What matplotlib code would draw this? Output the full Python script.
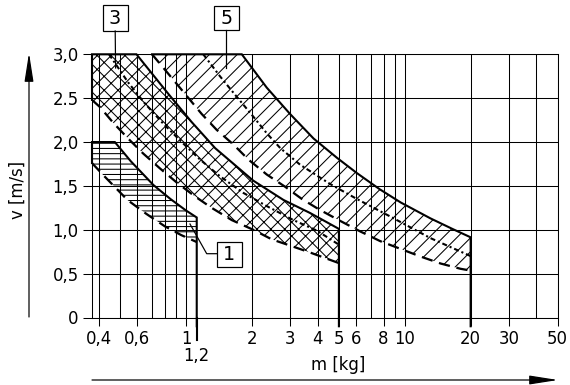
import matplotlib
matplotlib.use('Agg')
import matplotlib.pyplot as plt
from matplotlib.patches import Rectangle, FancyArrowPatch
from matplotlib.lines import Line2D
from matplotlib.ticker import FixedLocator, NullFormatter
import matplotlib.transforms as mtransforms

plt.rcParams['font.family'] = ['DejaVu Sans']
plt.rcParams['hatch.linewidth'] = 0.6

W, H, DPI = 570, 385, 125

# achsen
x_ticks = [0.4, 0.6, 1, 2, 3, 4, 5, 6, 8, 10, 20, 30, 50]
x_tick_labels = ['0,4', '0,6', '1', '2', '3', '4', '5', '6', '8', '10', '20', '30', '50']
x_grid = [0.4, 0.5, 0.6, 0.7, 0.8, 0.9, 1, 2, 3, 4, 5, 6, 7, 8, 9, 10, 20, 30, 40, 50]
y_ticks = [0, 0.5, 1.0, 1.5, 2.0, 2.5, 3.0]
y_tick_labels = ['0', '0,5', '1,0', '1,5', '2,0', '2.5', '3,0']
m_min, m_max = 0.372, 50

# feld 1
f1_upper_m = [0.372, 0.372, 0.473, 0.56, 0.71, 0.85, 1.0, 1.12]
f1_upper_v = [1.76, 2.0, 2.0, 1.78, 1.51, 1.35, 1.22, 1.14]
f1_lower_m = [0.372, 0.42, 0.54, 0.66, 0.80, 0.95, 1.12]
f1_lower_v = [1.76, 1.62, 1.34, 1.18, 1.04, 0.94, 0.86]
f1_limit = 1.12

# feld 3
f3_upper_m = [0.372, 0.372, 0.594, 0.83, 1.06, 1.36, 2.03, 2.79, 3.7, 5.0]
f3_upper_v = [2.48, 3.0, 3.0, 2.55, 2.23, 1.93, 1.56, 1.34, 1.19, 1.01]
f3_lower_m = [0.372, 0.404, 0.465, 0.544, 0.637, 0.76, 0.906, 1.10, 1.31, 1.62, 2.03, 2.47, 2.99, 3.70, 5.0]
f3_lower_v = [2.48, 2.40, 2.22, 2.04, 1.87, 1.70, 1.54, 1.38, 1.25, 1.11, 1.00, 0.89, 0.82, 0.74, 0.62]
f3_mid_m = [0.445, 0.544, 0.649, 0.787, 0.956, 1.16, 1.43, 1.83, 2.34, 3.10, 3.97, 5.0]
f3_mid_v = [3.0, 2.68, 2.44, 2.21, 2.0, 1.80, 1.61, 1.42, 1.27, 1.11, 0.99, 0.83]
f3_limit = 5.0

# feld 5
f5_upper_m = [0.70, 1.80, 2.34, 2.99, 3.83, 4.9, 6.05, 7.7, 9.6, 13.1, 16.5, 20.0]
f5_upper_v = [3.0, 3.0, 2.62, 2.32, 2.04, 1.82, 1.645, 1.46, 1.31, 1.13, 1.01, 0.914]
f5_lower_m = [0.70, 0.875, 1.18, 1.38, 1.65, 1.93, 2.34, 2.84, 3.39, 4.07, 5.08, 6.27, 7.73, 9.73, 11.8, 14.6, 18.0, 20.0]
f5_lower_v = [3.0, 2.71, 2.32, 2.14, 1.97, 1.80, 1.63, 1.49, 1.35, 1.23, 1.10, 0.98, 0.87, 0.775, 0.695, 0.615, 0.555, 0.535]
f5_mid_m = [1.2, 1.43, 1.65, 2.03, 2.34, 2.70, 3.33, 4.57, 6.05, 8.6, 13.1, 20.0]
f5_mid_v = [3.0, 2.75, 2.56, 2.29, 2.10, 1.93, 1.74, 1.52, 1.35, 1.15, 0.905, 0.70]
f5_limit = 20.0

fig = plt.figure(figsize=(W / DPI, H / DPI), dpi=DPI)
ax = fig.add_axes([92 / W, 1 - 317.5 / H, 465.7 / W, 263.2 / H])
ax.set_xscale('log')
ax.set_xlim(m_min, m_max)
ax.set_ylim(0, 3.0)

ax.xaxis.set_major_locator(FixedLocator(x_ticks))
ax.xaxis.set_minor_locator(FixedLocator(x_grid))
ax.xaxis.set_major_formatter(NullFormatter())
ax.xaxis.set_minor_formatter(NullFormatter())
ax.set_xticks(x_ticks)
ax.set_xticklabels(x_tick_labels)
ax.set_yticks(y_ticks)
ax.set_yticklabels(y_tick_labels)
ax.tick_params(axis='x', which='major', length=4.4, width=0.6, pad=3, labelsize=9.5)
ax.tick_params(axis='x', which='minor', length=0)
ax.tick_params(axis='y', length=5.2, width=0.6, pad=2.5, labelsize=9.5)
ax.grid(True, which='both', axis='x', color='black', lw=0.6)
ax.grid(True, axis='y', color='black', lw=0.6)
ax.set_axisbelow(True)
for sp in ax.spines.values():
    sp.set_linewidth(0.6)

dash = (0, (5, 3))
dashdot = (0, (2.4, 1.4, 1.0, 1.4))


def feld(up_m, up_v, lo_m, lo_v, limit, hatch, mid_m=None, mid_v=None):
    poly_m = up_m + [limit] + lo_m[::-1]
    poly_v = up_v + [lo_v[-1]] + lo_v[::-1]
    ax.fill(poly_m, poly_v, facecolor='none', edgecolor='black', hatch=hatch, linewidth=0)
    ax.plot(up_m + [limit], up_v + [-0.1], color='black', lw=1.2, clip_on=False,
            solid_joinstyle='miter')
    ax.plot(lo_m, lo_v, color='black', lw=1.3, ls=dash)
    if mid_m is not None:
        ax.plot(mid_m, mid_v, color='black', lw=1.2, ls=dashdot)


feld(f1_upper_m, f1_upper_v, f1_lower_m, f1_lower_v, f1_limit, '----')
feld(f3_upper_m, f3_upper_v, f3_lower_m, f3_lower_v, f3_limit, 'xxx', f3_mid_m, f3_mid_v)
feld(f5_upper_m, f5_upper_v, f5_lower_m, f5_lower_v, f5_limit, '///', f5_mid_m, f5_mid_v)

# 1,2 grenze reicht tiefer
ax.plot([f1_limit, f1_limit], [0, -0.257], color='black', lw=1.2, clip_on=False)
trans = mtransforms.blended_transform_factory(ax.transData, ax.transAxes)
ax.text(f1_limit, -0.147, '1,2', transform=trans, ha='center', va='center', fontsize=9.5)

ax.text(0.528, -0.18, 'm [kg]', transform=ax.transAxes, ha='center', va='center', fontsize=9.5)
ax.text(-0.159, 0.484, 'v [m/s]', transform=ax.transAxes, rotation=90,
        ha='center', va='center', fontsize=9.5)


def px(x, y):
    return (x / W, 1 - y / H)


def pfeil(p0, p1):
    fig.add_artist(FancyArrowPatch(px(*p0), px(*p1), transform=fig.transFigure,
                                   arrowstyle='-|>,head_length=1.4,head_width=0.22',
                                   mutation_scale=10, lw=0.7, color='black',
                                   shrinkA=0, shrinkB=0))


pfeil((29, 317), (29, 53))
pfeil((92, 380), (558, 380))


def kasten(x0, y0, x1, y1, label, leader):
    fig.add_artist(Rectangle(px(x0, y1), (x1 - x0) / W, (y1 - y0) / H,
                             transform=fig.transFigure, fill=False, lw=0.7, ec='black'))
    cx, cy = px((x0 + x1) / 2, (y0 + y1) / 2 + 6.5)
    fig.text(cx, cy, label, ha='center', va='baseline', fontsize=11)
    xs = [p[0] / W for p in leader]
    ys = [1 - p[1] / H for p in leader]
    fig.add_artist(Line2D(xs, ys, transform=fig.transFigure, lw=0.7, color='black'))


kasten(102.7, 5, 127.5, 31, '3', [(115.2, 31), (115.6, 68)])
kasten(214, 6, 238.5, 30, '5', [(226.3, 30), (226.3, 68)])
kasten(217, 241.5, 241.5, 266.5, '1', [(217, 253.7), (206.7, 253.7), (190, 224)])

fig.savefig('out.png', dpi=DPI)
